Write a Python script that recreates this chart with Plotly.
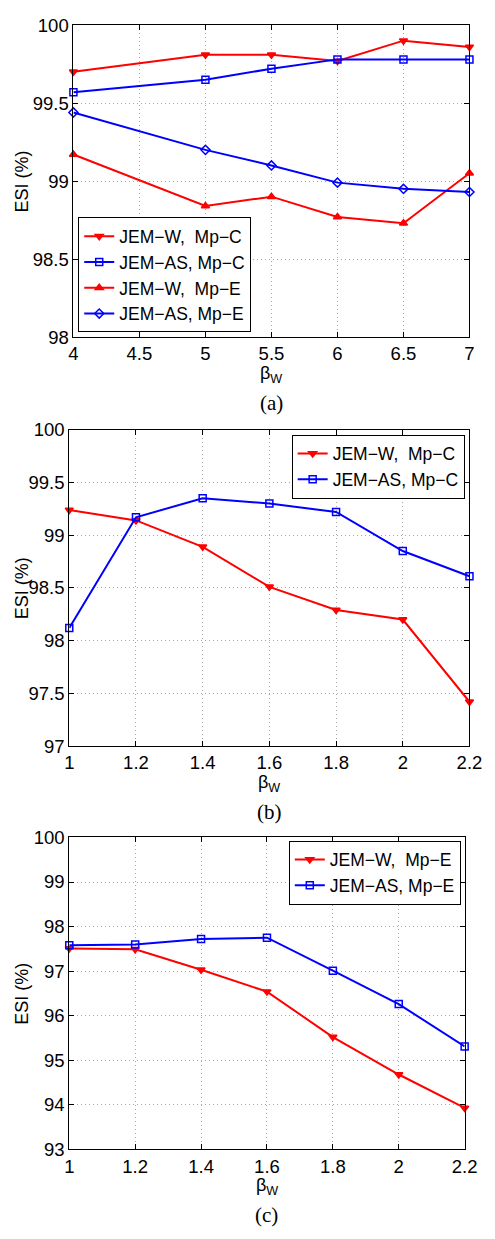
import plotly.graph_objects as go

# ---- data ----
x_a = [4, 5, 5.5, 6, 6.5, 7]
a_jemw_mpc = [99.70, 99.81, 99.81, 99.77, 99.90, 99.86]
a_jemas_mpc = [99.57, 99.65, 99.72, 99.78, 99.78, 99.78]
a_jemw_mpe = [99.17, 98.84, 98.90, 98.77, 98.73, 99.05]
a_jemas_mpe = [99.44, 99.20, 99.10, 98.99, 98.95, 98.93]

x_bc = [1, 1.2, 1.4, 1.6, 1.8, 2, 2.2]
b_jemw_mpc = [99.24, 99.14, 98.89, 98.51, 98.29, 98.20, 97.42]
b_jemas_mpc = [98.12, 99.17, 99.35, 99.30, 99.22, 98.85, 98.61]
c_jemw_mpe = [97.51, 97.49, 97.03, 96.54, 95.52, 94.68, 93.93]
c_jemas_mpe = [97.58, 97.60, 97.72, 97.75, 97.01, 96.26, 95.31]

W, H = 495, 1239
RED = "#ff0000"
BLUE = "#0000ff"
FONT = "Liberation Sans, Arial, sans-serif"
SERIF = "Liberation Serif, Times New Roman, serif"
NB = "\u00a0"

def tr(x, y, name, color, symbol, xa, ya, legend):
    return go.Scatter(
        x=x, y=y, name=name, mode="lines+markers",
        line=dict(color=color, width=2),
        marker=dict(symbol=symbol, size=7, color=color,
                    line=dict(color=color, width=1.5)),
        xaxis=xa, yaxis=ya, legend=legend, cliponaxis=False,
    )

fig = go.Figure()
fig.add_trace(tr(x_a, a_jemw_mpc, "JEM−W," + NB + " Mp−C", RED, "triangle-down", "x", "y", "legend"))
fig.add_trace(tr(x_a, a_jemas_mpc, "JEM−AS, Mp−C", BLUE, "square-open", "x", "y", "legend"))
fig.add_trace(tr(x_a, a_jemw_mpe, "JEM−W," + NB + " Mp−E", RED, "triangle-up", "x", "y", "legend"))
fig.add_trace(tr(x_a, a_jemas_mpe, "JEM−AS, Mp−E", BLUE, "diamond-open", "x", "y", "legend"))

fig.add_trace(tr(x_bc, b_jemw_mpc, "JEM−W," + NB + " Mp−C", RED, "triangle-down", "x2", "y2", "legend2"))
fig.add_trace(tr(x_bc, b_jemas_mpc, "JEM−AS, Mp−C", BLUE, "square-open", "x2", "y2", "legend2"))

fig.add_trace(tr(x_bc, c_jemw_mpe, "JEM−W," + NB + " Mp−E", RED, "triangle-down", "x3", "y3", "legend3"))
fig.add_trace(tr(x_bc, c_jemas_mpe, "JEM−AS, Mp−E", BLUE, "square-open", "x3", "y3", "legend3"))

def px_x(p):
    return p / W

def px_y(p):
    return 1 - p / H

axis_common = dict(
    showline=True, linecolor="black", linewidth=1, mirror="ticks",
    ticks="inside", ticklen=5, tickcolor="black",
    showgrid=True, gridcolor="#a8a8a8", griddash="1px,3px", gridwidth=1,
    zeroline=False, tickfont=dict(family=FONT, size=18.5, color="black"),
)

# panel pixel boxes: (left, right, top, bottom)
boxes = [(71, 482, 14.3, 331.7), (66.7, 482, 426, 747.7), (66.7, 477, 840.7, 1158)]
xr = [[4, 7], [1, 2.2], [1, 2.2]]
xd = [0.5, 0.2, 0.2]
yr = [[98, 100], [97, 100], [93, 100]]
yd = [0.5, 0.5, 1]

layout = dict(width=W, height=H, margin=dict(l=0, r=0, t=0, b=0),
              paper_bgcolor="white", plot_bgcolor="white", showlegend=True)
annotations = []
for i, (l, r, t, b) in enumerate(boxes):
    sfx = "" if i == 0 else str(i + 1)
    layout["xaxis" + sfx] = dict(axis_common, domain=[px_x(l), px_x(r)], range=xr[i], dtick=xd[i],
                                 anchor="y" + sfx)
    layout["yaxis" + sfx] = dict(axis_common, domain=[px_y(b), px_y(t)], range=yr[i], dtick=yd[i],
                                 anchor="x" + sfx)
    cx = (l + r) / 2
    annotations.append(dict(text="β<sub>W</sub>", x=px_x(cx), y=px_y(b + 24), xref="paper", yref="paper",
                            showarrow=False, font=dict(family=FONT, size=18, color="black"),
                            xanchor="center", yanchor="top"))
    annotations.append(dict(text="ESI (%)", x=px_x(18), y=px_y((t + b) / 2), xref="paper", yref="paper",
                            showarrow=False, textangle=-90, font=dict(family=FONT, size=18, color="black"),
                            xanchor="center", yanchor="middle"))
    annotations.append(dict(text="(" + "abc"[i] + ")", x=px_x(cx), y=px_y(b + 67), xref="paper", yref="paper",
                            showarrow=False, font=dict(family=SERIF, size=21, color="black"),
                            xanchor="center", yanchor="middle"))

leg_common = dict(bgcolor="white", bordercolor="black", borderwidth=1,
                  font=dict(family=FONT, size=17.5, color="black"), tracegroupgap=0,
                  itemwidth=30)
layout["legend"] = dict(leg_common, x=px_x(76), y=px_y(327), xanchor="left", yanchor="bottom")
layout["legend2"] = dict(leg_common, x=px_x(477), y=px_y(431), xanchor="right", yanchor="top")
layout["legend3"] = dict(leg_common, x=px_x(473), y=px_y(844), xanchor="right", yanchor="top")
layout["annotations"] = annotations

fig.update_layout(**layout)
fig.write_html("out.html", config={"displayModeBar": False})

# remove the default page margin so the figure sits at the window's corner
with open("out.html", "r", encoding="utf-8") as f:
    html = f.read()
html = html.replace("<head>", "<head><style>html,body{margin:0;padding:0;overflow:hidden;}</style>", 1)
with open("out.html", "w", encoding="utf-8") as f:
    f.write(html)
